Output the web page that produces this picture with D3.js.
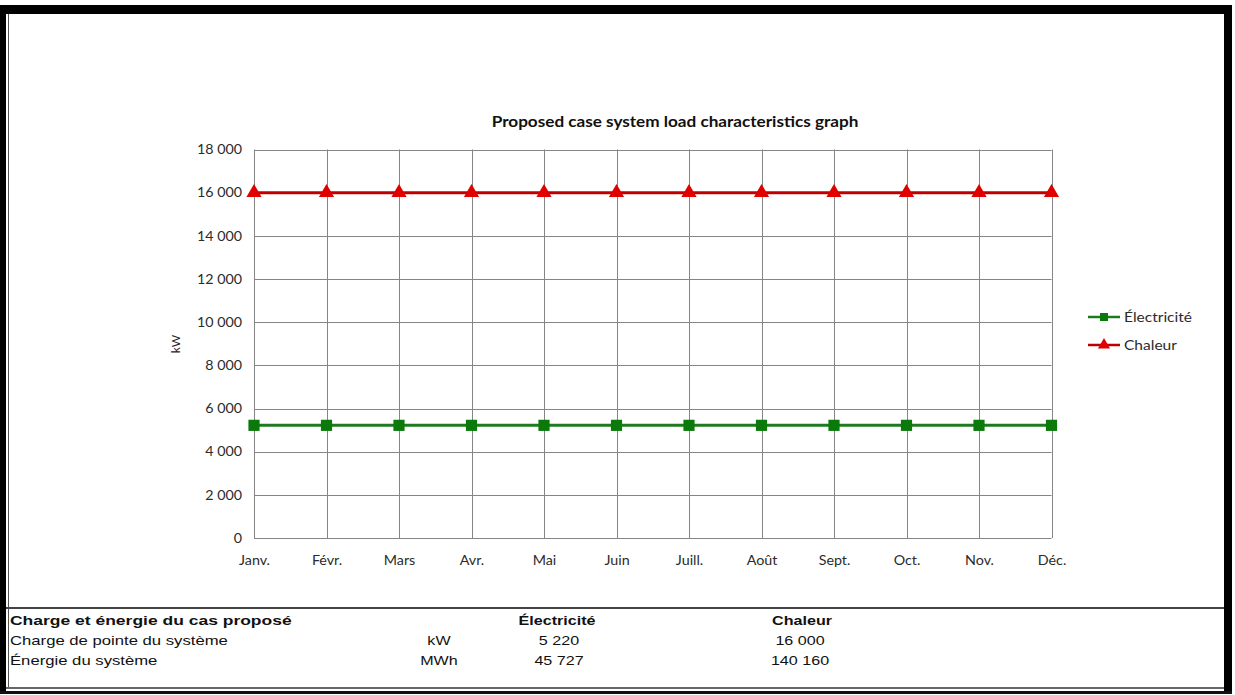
<!DOCTYPE html>
<html>
<head>
<meta charset="utf-8">
<script src="https://cdn.jsdelivr.net/npm/d3@7"></script>
<style>
  html, body { margin: 0; padding: 0; background: #ffffff; }
  svg { display: block; }
</style>
</head>
<body>
<svg id="chart" width="1235" height="695"></svg>
<script>
// Monthly categories and series (kW)
const months = ["Janv.", "Févr.", "Mars", "Avr.", "Mai", "Juin", "Juill.", "Août", "Sept.", "Oct.", "Nov.", "Déc."];
const electricite = [5220, 5220, 5220, 5220, 5220, 5220, 5220, 5220, 5220, 5220, 5220, 5220];
const chaleur = [16000, 16000, 16000, 16000, 16000, 16000, 16000, 16000, 16000, 16000, 16000, 16000];
const yTicks = [0, 2000, 4000, 6000, 8000, 10000, 12000, 14000, 16000, 18000];
const seriesNames = ["Électricité", "Chaleur"];

// Summary table below the chart
const tableTitle = "Charge et énergie du cas proposé";
const tableRowLabels = ["Charge de pointe du système", "Énergie du système"];
const tableUnits = ["kW", "MWh"];
const tableElectricite = [5220, 45727];
const tableChaleur = [16000, 140160];

const fr = d3.formatLocale({ decimal: ",", thousands: " ", grouping: [3], currency: ["", " €"] });
const fmt = fr.format(",d");

const svg = d3.select("#chart");
const W = 1235, H = 695;

const chartFont = "Lato, 'Open Sans', sans-serif";
const tableFont = "'Liberation Sans', Arial, sans-serif";

// Stretch a text horizontally around its anchor point
function stretch(node, k) {
  const t = d3.select(node);
  const x = +t.attr("x") || 0;
  const y = +t.attr("y") || 0;
  t.attr("x", 0).attr("y", 0).attr("transform", `translate(${x},${y}) scale(${k},1)`);
}
function widthOf(text, font, size, weight) {
  const tmp = svg.append("text").attr("font-family", font).attr("font-size", size)
    .attr("font-weight", weight || "normal").text(text);
  const w = tmp.node().getComputedTextLength();
  tmp.remove();
  return w;
}

// ---------- Frame ----------
svg.append("rect").attr("x", 0).attr("y", 0).attr("width", W).attr("height", H).attr("fill", "#ffffff");
// thick black borders
svg.append("rect").attr("x", 0).attr("y", 5).attr("width", 1232).attr("height", 9).attr("fill", "#000");
svg.append("rect").attr("x", 0).attr("y", 5).attr("width", 6).attr("height", 688).attr("fill", "#000");
svg.append("rect").attr("x", 1224).attr("y", 5).attr("width", 8).attr("height", 688).attr("fill", "#000");
// thin inner lines
svg.append("line").attr("x1", 8.5).attr("x2", 8.5).attr("y1", 14).attr("y2", 688).attr("stroke", "#555").attr("stroke-width", 1);
svg.append("line").attr("x1", 6).attr("x2", 1224).attr("y1", 608).attr("y2", 608).attr("stroke", "#444").attr("stroke-width", 2);
svg.append("line").attr("x1", 6).attr("x2", 1224).attr("y1", 688).attr("y2", 688).attr("stroke", "#666").attr("stroke-width", 2);
svg.append("line").attr("x1", 0).attr("x2", 1232).attr("y1", 692.5).attr("y2", 692.5).attr("stroke", "#111").attr("stroke-width", 3);

// ---------- Scales ----------
const x = d3.scalePoint().domain(months).range([254, 1051.5]);
const y = d3.scaleLinear().domain([0, 18000]).range([538, 149.5]);

const plot = svg.append("g");

// Gridlines
plot.append("g").selectAll("line").data(yTicks).join("line")
  .attr("x1", x.range()[0]).attr("x2", x.range()[1])
  .attr("y1", d => Math.round(y(d)) + 0.5).attr("y2", d => Math.round(y(d)) + 0.5)
  .attr("stroke", "#858585").attr("stroke-width", 1);
plot.append("g").selectAll("line").data(months).join("line")
  .attr("x1", d => Math.round(x(d)) + 0.5).attr("x2", d => Math.round(x(d)) + 0.5)
  .attr("y1", y(18000)).attr("y2", y(0))
  .attr("stroke", "#858585").attr("stroke-width", 1);

// Y axis labels
const yAxis = plot.append("g").attr("transform", `translate(${x.range()[0]},0)`)
  .call(d3.axisLeft(y).tickValues(yTicks).tickFormat(fmt).tickSize(0).tickPadding(12));
yAxis.select(".domain").remove();
yAxis.selectAll("text").attr("font-family", chartFont).attr("font-size", 13).attr("fill", "#2b2b2b");
const kY = 45 / widthOf("18 000", chartFont, 13);
yAxis.selectAll("text").each(function () { stretch(this, kY); });

// X axis labels
const xAxis = plot.append("g").attr("transform", `translate(0,${y(0)})`)
  .call(d3.axisBottom(x).tickSize(0).tickPadding(18));
xAxis.select(".domain").remove();
xAxis.selectAll("text").attr("font-family", chartFont).attr("font-size", 13).attr("fill", "#2b2b2b");
const kX = 31 / widthOf("Janv.", chartFont, 13);
xAxis.selectAll("text").each(function () { stretch(this, kX); });

// Y axis title
svg.append("text")
  .attr("transform", `translate(180,344) rotate(-90)`)
  .attr("text-anchor", "middle")
  .attr("font-family", chartFont).attr("font-size", 12).attr("fill", "#222")
  .text("kW");

// Title
const titleText = "Proposed case system load characteristics graph";
const title = svg.append("text").attr("x", 675).attr("y", 127)
  .attr("text-anchor", "middle")
  .attr("font-family", chartFont).attr("font-size", 14.5).attr("font-weight", "bold").attr("fill", "#111")
  .text(titleText);
stretch(title.node(), 367 / widthOf(titleText, chartFont, 14.5, "bold"));

// ---------- Series ----------
const series = [
  { name: seriesNames[0], values: electricite, line: "#1f7a1f", fill: "#0a7a0a", marker: "square" },
  { name: seriesNames[1], values: chaleur, line: "#c00000", fill: "#e00000", marker: "triangle" }
];

const lineGen = d3.line().x((d, i) => x(months[i])).y(d => y(d));

series.forEach(s => {
  plot.append("path").datum(s.values)
    .attr("d", lineGen)
    .attr("fill", "none").attr("stroke", s.line).attr("stroke-width", 3);
  const sym = s.marker === "square" ? d3.symbolSquare : d3.symbolTriangle;
  plot.append("g").selectAll("path").data(s.values).join("path")
    .attr("transform", (d, i) => `translate(${x(months[i])},${y(d)})`)
    .attr("d", d3.symbol(sym, s.marker === "square" ? 125 : 100))
    .attr("fill", s.fill);
});

// ---------- Legend ----------
const legend = svg.append("g");
const kL = 68 / widthOf("Électricité", chartFont, 13);
series.forEach((s, i) => {
  const ly = 317 + i * 28;
  legend.append("line").attr("x1", 1088).attr("x2", 1120).attr("y1", ly).attr("y2", ly)
    .attr("stroke", s.line).attr("stroke-width", 2.5);
  const sym = s.marker === "square" ? d3.symbolSquare : d3.symbolTriangle;
  legend.append("path").attr("transform", `translate(1104,${ly})`)
    .attr("d", d3.symbol(sym, s.marker === "square" ? 64 : 64)).attr("fill", s.fill);
  const t = legend.append("text").attr("x", 1124).attr("y", ly + 4.5)
    .attr("font-family", chartFont).attr("font-size", 13).attr("fill", "#2b2b2b").text(s.name);
  stretch(t.node(), kL);
});

// ---------- Table ----------
const table = svg.append("g");
const kT = 60 / widthOf("Chaleur", tableFont, 12.5, "bold");
function tcell(txt, tx, ty, anchor, bold, k) {
  const t = table.append("text").attr("x", tx).attr("y", ty)
    .attr("text-anchor", anchor)
    .attr("font-family", tableFont).attr("font-size", 12.5)
    .attr("font-weight", bold ? "bold" : "normal").attr("fill", "#111").text(txt);
  stretch(t.node(), k || kT);
}
const rowY = [625, 645, 665];
tcell(tableTitle, 10, rowY[0], "start", true, 282 / widthOf(tableTitle, tableFont, 12.5, "bold"));
tcell(seriesNames[0], 557, rowY[0], "middle", true);
tcell(seriesNames[1], 802, rowY[0], "middle", true);
tableRowLabels.forEach((lab, i) => {
  tcell(lab, 10, rowY[i + 1], "start", false, 218 / widthOf(tableRowLabels[0], tableFont, 12.5));
  tcell(tableUnits[i], 439, rowY[i + 1], "middle", false);
  tcell(fmt(tableElectricite[i]), 559, rowY[i + 1], "middle", false);
  tcell(fmt(tableChaleur[i]), 800, rowY[i + 1], "middle", false);
});
</script>
</body>
</html>
